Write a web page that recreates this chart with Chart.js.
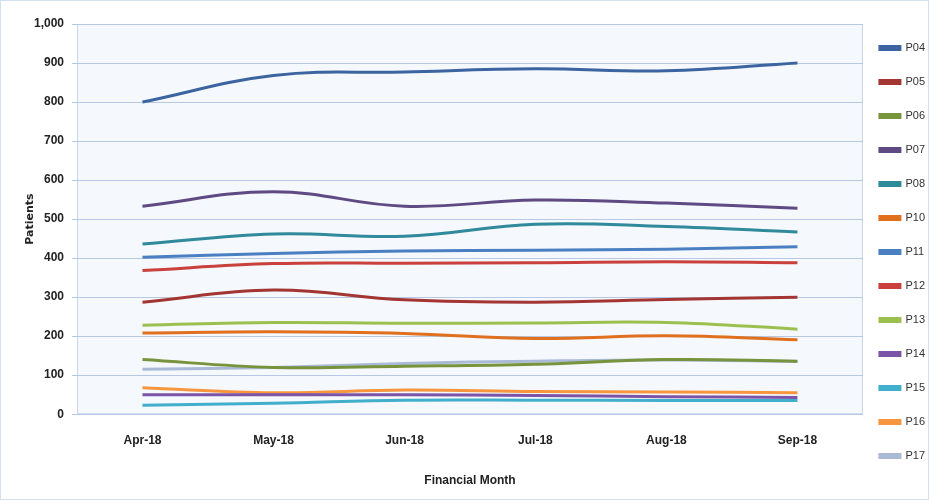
<!DOCTYPE html>
<html>
<head>
  <meta charset="UTF-8">
  <title>Patients by Financial Month</title>
  <style>
    body {
      margin: 0;
      padding: 0;
      background: #ffffff;
    }
    .chart-box {
      position: relative;
      width: 927px;
      height: 498px;
      border: 1px solid #d3e0f0;
    }
  </style>
  <script src="https://cdn.jsdelivr.net/npm/chart.js"></script>
</head>
<body>
  <div class="chart-box">
    <canvas id="patientsChart"></canvas>
  </div>

  <script>
    // Months on the x axis
    const months = ['Apr-18', 'May-18', 'Jun-18', 'Jul-18', 'Aug-18', 'Sep-18'];

    // Patient counts per practice
    const p04 = [800, 868, 877, 885, 880, 900];
    const p05 = [287, 318, 293, 287, 294, 300];
    const p06 = [140, 120, 123, 128, 140, 136];
    const p07 = [533, 570, 533, 549, 541, 528];
    const p08 = [436, 462, 456, 487, 481, 467];
    const p10 = [208, 211, 207, 194, 201, 191];
    const p11 = [402, 412, 418, 420, 423, 429];
    const p12 = [368, 386, 387, 388, 391, 388];
    const p13 = [228, 235, 233, 234, 235, 218];
    const p14 = [50, 50, 50, 48, 45, 43];
    const p15 = [23, 28, 36, 36, 35, 35];
    const p16 = [68, 55, 62, 58, 57, 55];
    const p17 = [115, 120, 130, 136, 139, 135];

    const practiceNames = ['P04', 'P05', 'P06', 'P07', 'P08', 'P10', 'P11', 'P12', 'P13', 'P14', 'P15', 'P16', 'P17'];
    const practiceData = [p04, p05, p06, p07, p08, p10, p11, p12, p13, p14, p15, p16, p17];
    const practiceColors = [
      '#3b64a0', '#a33533', '#77933c', '#5f4a83', '#2f8a9c', '#e0701e',
      '#4a80c2', '#c9403d', '#9cc04f', '#7b54a8', '#41afcb', '#f7963f', '#a9b9d6'
    ];

    const labelFont = "'Liberation Sans', Arial, sans-serif";

    // Light plot-area fill with a thin frame
    const plotBackground = {
      id: 'plotBackground',
      beforeDraw(chart) {
        const { ctx, chartArea: a } = chart;
        ctx.save();
        ctx.fillStyle = '#f5f8fc';
        ctx.fillRect(a.left, a.top, a.right - a.left, a.bottom - a.top);
        ctx.strokeStyle = '#c9d7ea';
        ctx.lineWidth = 1;
        ctx.strokeRect(a.left + 0.5, a.top + 0.5, a.right - a.left - 1, a.bottom - a.top - 1);
        ctx.restore();
      }
    };

    // Nudge the legend column a little up and to the left
    const legendNudge = {
      id: 'legendNudge',
      afterLayout(chart) {
        const lg = chart.legend;
        if (!lg) return;
        lg.left -= 6;
        lg.right -= 6;
        lg.top -= 6;
        lg.bottom -= 6;
      }
    };

    const datasets = practiceNames.map((name, i) => ({
      label: name,
      data: practiceData[i],
      borderColor: practiceColors[i],
      backgroundColor: practiceColors[i],
      borderWidth: 3,
      tension: 0.4,
      pointRadius: 0,
      pointHoverRadius: 0,
      fill: false
    }));

    const ctx = document.getElementById('patientsChart').getContext('2d');
    new Chart(ctx, {
      type: 'line',
      data: {
        labels: months,
        datasets: datasets
      },
      options: {
        responsive: true,
        maintainAspectRatio: false,
        animation: false,
        layout: {
          padding: { top: 23, right: -13, bottom: 7, left: 23 }
        },
        plugins: {
          legend: {
            position: 'right',
            labels: {
              boxWidth: 20,
              boxHeight: 3,
              padding: 23,
              color: '#333333',
              font: { family: labelFont, size: 11 }
            }
          },
          tooltip: { enabled: false }
        },
        scales: {
          x: {
            offset: true,
            grid: { display: false },
            border: { display: false },
            ticks: {
              color: '#222222',
              padding: 11,
              font: { family: labelFont, size: 12, weight: 'bold' }
            },
            title: {
              display: true,
              text: 'Financial Month',
              color: '#222222',
              padding: { top: 15 },
              font: { family: labelFont, size: 12, weight: 'bold' }
            }
          },
          y: {
            min: 0,
            max: 1000,
            afterFit(scale) {
              scale.width = 53;
            },
            ticks: {
              stepSize: 100,
              color: '#222222',
              padding: 8,
              font: { family: labelFont, size: 12, weight: 'bold' },
              callback: v => v.toLocaleString('en-US')
            },
            grid: {
              color: '#b7c8e2',
              tickLength: 5
            },
            border: { display: false },
            title: {
              display: true,
              text: 'Patients',
              color: '#222222',
              padding: { top: 0, bottom: 3 },
              font: { family: "'DejaVu Sans', sans-serif", size: 11, weight: 'bold' }
            }
          }
        }
      },
      plugins: [plotBackground, legendNudge]
    });
  </script>
</body>
</html>
